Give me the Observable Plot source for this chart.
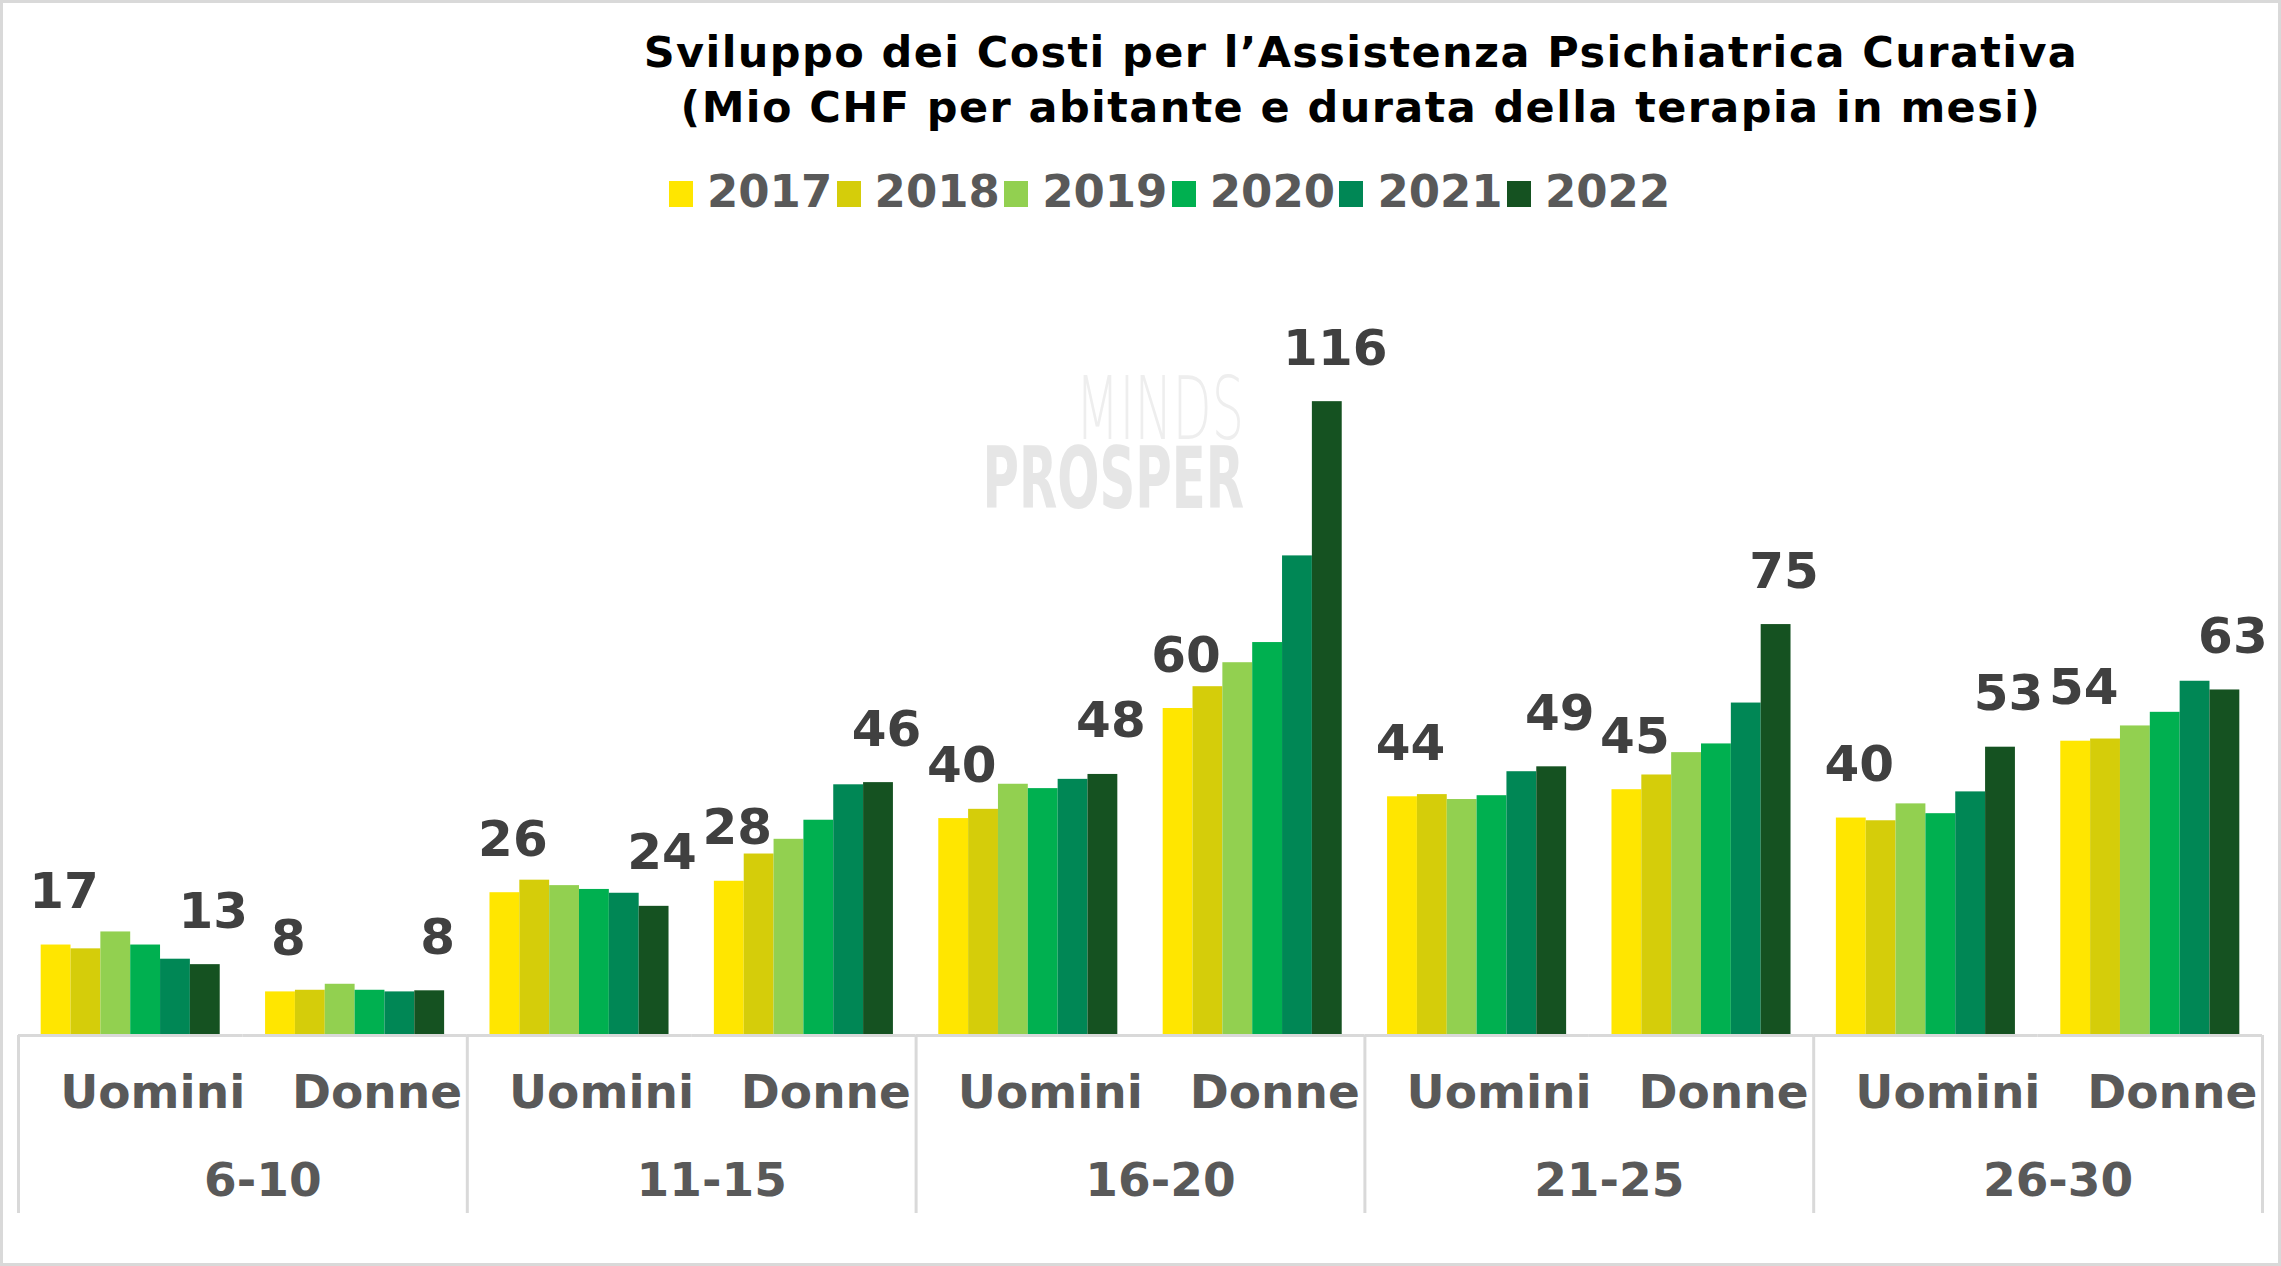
<!DOCTYPE html>
<html>
<head>
<meta charset="utf-8">
<script src="https://cdn.jsdelivr.net/npm/d3@7"></script>
<script src="https://cdn.jsdelivr.net/npm/@observablehq/plot@0.6"></script>
<style>
  html, body { margin: 0; padding: 0; background: #fff; }
  #wrap { position: relative; width: 2281px; height: 1266px; overflow: hidden; font-family: "DejaVu Sans", Verdana, sans-serif; }
  #border { position: absolute; left: 0; top: 0; width: 2281px; height: 1266px; box-sizing: border-box; border: 3px solid #d9d9d9; pointer-events: none; }
  #title { position: absolute; top: 25px; left: 1361px; transform: translateX(-50%); white-space: nowrap; text-align: center;
           font-size: 43px; letter-spacing: 1.4px; line-height: 55px; font-weight: bold; color: #000; }
  #legend { position: absolute; top: 170px; left: 669px; display: flex; font-size: 45px; line-height: 44px; font-weight: bold; color: #595959; }
  #legend .item { width: 167.6px; white-space: nowrap; }
  #legend .sw { display: inline-block; width: 24px; height: 26px; margin-right: 14px; vertical-align: baseline; }
  #watermark { position: absolute; right: 1037px; top: 374px; width: 800px; white-space: pre-line; text-align: right;
               transform: scaleX(0.585); transform-origin: right top; pointer-events: none;
               font-family: "DejaVu Sans", sans-serif; font-size: 85px; line-height: 70px; font-weight: bold; color: #e6e6e6; }
  #watermark::first-line { font-size: 87px; font-weight: 200; color: #eeeeee; }
  #chart { position: absolute; left: 0; top: 240px; }
</style>
</head>
<body>
<div id="wrap">
  <div id="watermark">MINDS
PROSPER</div>
  <div id="title">Sviluppo dei Costi per l’Assistenza Psichiatrica Curativa<br>(Mio CHF per abitante e durata della terapia in mesi)</div>
  <div id="legend"></div>
  <div id="chart"></div>
  <div id="border"></div>
</div>
<script>
// ---- data ----
const ageGroups = ["6-10", "11-15", "16-20", "21-25", "26-30"];
const sexes = ["Uomini", "Donne"];
const years = ["2017", "2018", "2019", "2020", "2021", "2022"];
const colors = ["#FFE600", "#D5CD0A", "#92D050", "#00B050", "#008755", "#155221"];
const labeledYears = ["2017", "2022"];

// order: 6-10 U, 6-10 D, 11-15 U, 11-15 D, 16-20 U, 16-20 D, 21-25 U, 21-25 D, 26-30 U, 26-30 D
const v2017 = [16.6, 8.0, 26.2, 28.3, 39.8, 60.0, 43.8, 45.1, 39.9, 54.0];
const v2018 = [15.9, 8.3, 28.5, 33.3, 41.5, 64.0, 44.2, 47.8, 39.4, 54.4];
const v2019 = [19.0, 9.4, 27.5, 36.0, 46.1, 68.4, 43.3, 51.9, 42.5, 56.8];
const v2020 = [16.6, 8.3, 26.8, 39.5, 45.3, 72.1, 44.0, 53.5, 40.7, 59.3];
const v2021 = [14.0, 8.0, 26.1, 46.0, 47.0, 88.0, 48.4, 61.0, 44.7, 65.0];
const v2022 = [13.0, 8.2, 23.7, 46.4, 47.9, 116.3, 49.3, 75.4, 52.9, 63.4];
const series = [v2017, v2018, v2019, v2020, v2021, v2022];

// ---- build table ----
const keys = ageGroups.flatMap(a => sexes.map(s => a + "|" + s));
const rows = [];
keys.forEach((k, i) => {
  const [age, sex] = k.split("|");
  years.forEach((y, j) => rows.push({key: k, age, sex, year: y, value: series[j][i]}));
});

// ---- legend ----
const legend = document.getElementById("legend");
years.forEach((y, j) => {
  const item = document.createElement("span");
  item.className = "item";
  const sw = document.createElement("span");
  sw.className = "sw";
  sw.style.background = colors[j];
  item.appendChild(sw);
  item.appendChild(document.createTextNode(y));
  legend.appendChild(item);
});

// ---- chart ----
const W = 2281, mL = 18, mR = 19;
const facetW = (W - mL - mR) / keys.length;
const lastKey = keys[keys.length - 1];

const chart = Plot.plot({
  width: W,
  height: 1026,
  marginLeft: mL,
  marginRight: mR,
  marginTop: 141,
  marginBottom: 231,
  style: {fontFamily: "DejaVu Sans, Verdana, sans-serif", background: "transparent", overflow: "visible"},
  facet: {data: rows, x: "key"},
  fx: {domain: keys, padding: 0, round: false, axis: null},
  x: {domain: years, paddingInner: 0, paddingOuter: 0.76, round: false, axis: null},
  y: {domain: [0, 120], axis: null},
  color: {domain: years, range: colors},
  marks: [
    Plot.barY(rows, {x: "year", y: "value", fill: "year"}),
    Plot.ruleY([0], {stroke: "#d9d9d9", strokeWidth: 3}),
    // group separators (left edge of each age group) and right closing edge
    Plot.ruleX(rows, {filter: d => d.sex === "Uomini" && d.year === "2017", x: null, y1: () => 0,
      insetBottom: -178, dx: -facetW / 2, stroke: "#d9d9d9", strokeWidth: 3}),
    Plot.ruleX(rows, {filter: d => d.key === lastKey && d.year === "2017", x: null, y1: () => 0,
      insetBottom: -178, dx: facetW / 2, stroke: "#d9d9d9", strokeWidth: 3}),
    // data labels
    Plot.text(rows, {filter: d => labeledYears.includes(d.year), x: "year", y: "value",
      text: d => String(Math.round(d.value)), dy: -53, dx: 8, lineAnchor: "middle",
      fontSize: 50, fontWeight: "bold", fill: "#404040"}),
    // sex labels
    Plot.text(rows, {filter: d => d.year === "2017", text: "sex", frameAnchor: "bottom",
      lineAnchor: "middle", dy: 57, dx: 22, fontSize: 47, fontWeight: "bold", fill: "#595959"}),
    // age group labels
    Plot.text(rows, {filter: d => d.year === "2017" && d.sex === "Uomini", text: "age", frameAnchor: "bottom-right",
      textAnchor: "middle", lineAnchor: "middle", dy: 145, dx: 20, fontSize: 47, fontWeight: "bold", fill: "#595959"})
  ]
});
document.getElementById("chart").appendChild(chart);
</script>
</body>
</html>
